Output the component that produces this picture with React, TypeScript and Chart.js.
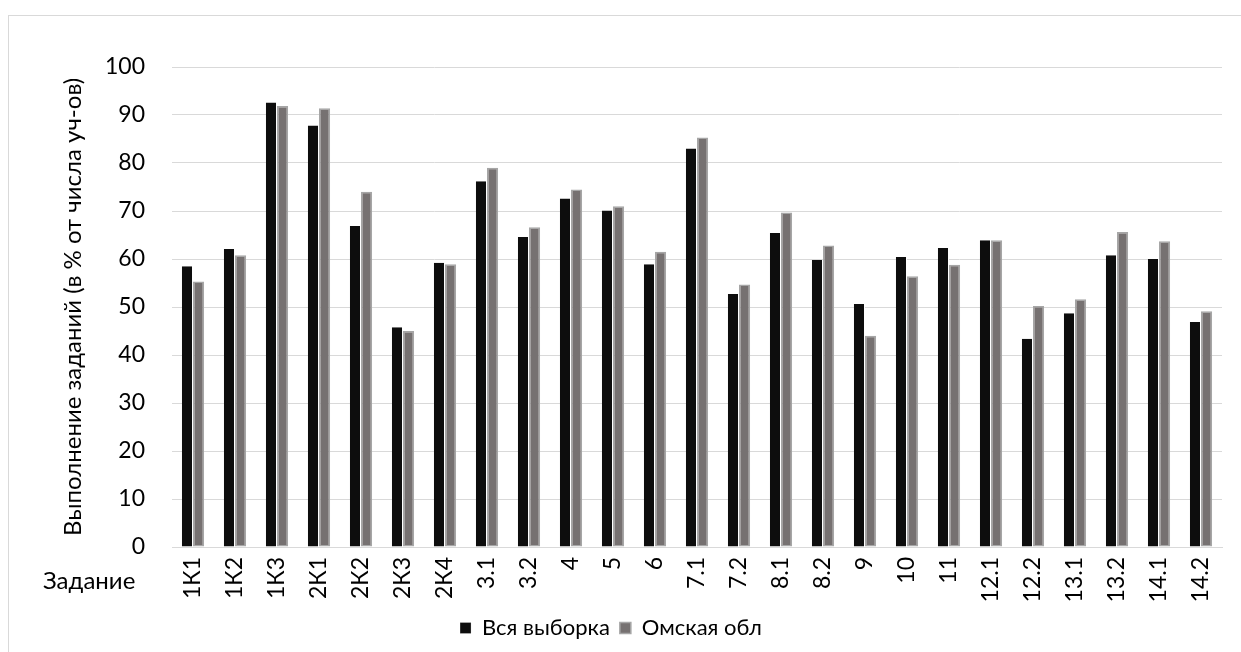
import React, { useEffect, useRef } from "react";
import { Chart, registerables } from "chart.js";

Chart.register(...registerables);

const categories: string[] = [
  "1К1", "1К2", "1К3", "2К1", "2К2", "2К3", "2К4", "3.1", "3.2", "4", "5", "6",
  "7.1", "7.2", "8.1", "8.2", "9", "10", "11", "12.1", "12.2", "13.1", "13.2", "14.1", "14.2",
];

const allSample: number[] = [
  58.5, 62.1, 92.6, 87.8, 66.9, 45.8, 59.2, 76.2, 64.6, 72.6, 70.1, 58.9,
  83.0, 52.7, 65.4, 59.8, 50.6, 60.4, 62.3, 63.9, 43.4, 48.7, 60.8, 60.0, 46.9,
];

const omskRegion: number[] = [
  55.3, 60.8, 91.9, 91.4, 74.0, 45.0, 58.9, 79.0, 66.6, 74.5, 71.0, 61.5,
  85.3, 54.7, 69.7, 62.8, 44.0, 56.4, 58.8, 63.9, 50.2, 51.6, 65.6, 63.7, 49.1,
];

const seriesNames: string[] = ["Вся выборка", "Омская обл"];
const yAxisTitle = "Выполнение заданий (в % от числа уч-ов)";
const xAxisTitle = "Задание";

const FONT = "Lato, 'Open Sans', sans-serif";

export default function App() {
  const canvasRef = useRef<HTMLCanvasElement | null>(null);

  useEffect(() => {
    document.body.style.margin = "0";
    const canvas = canvasRef.current;
    if (!canvas) return;

    const xTitlePlugin = {
      id: "xTitlePlugin",
      afterDraw(chart: any) {
        const ctx = chart.ctx;
        ctx.save();
        ctx.font = `24px ${FONT}`;
        ctx.fillStyle = "#000000";
        ctx.textAlign = "left";
        ctx.textBaseline = "middle";
        ctx.fillText(xAxisTitle, 43, 581);
        ctx.restore();
      },
    };

    const chart = new Chart(canvas, {
      type: "bar",
      data: {
        labels: categories,
        datasets: [
          {
            label: seriesNames[0],
            data: allSample,
            backgroundColor: "#0d0d0d",
            borderColor: "#ffffff",
            borderWidth: { top: 0, left: 0, bottom: 0, right: 1 },
            borderSkipped: false,
          },
          {
            label: seriesNames[1],
            data: omskRegion,
            backgroundColor: "#767171",
            borderColor: "#a6a6a6",
            borderWidth: 1.5,
            borderSkipped: false,
          },
        ],
      },
      options: {
        animation: false,
        responsive: false,
        maintainAspectRatio: false,
        layout: { padding: { top: 67, right: 19, bottom: 3, left: 0 } },
        datasets: {
          bar: { barPercentage: 1, categoryPercentage: 0.53 },
        },
        plugins: {
          legend: {
            position: "bottom",
            labels: {
              font: { family: FONT, size: 22 },
              color: "#000000",
              boxWidth: 11,
              boxHeight: 11,
              padding: 10,
            },
          },
          tooltip: { enabled: false },
        },
        scales: {
          x: {
            grid: { display: false, drawTicks: false },
            border: { display: true, color: "#d9d9d9", width: 1 },
            ticks: {
              autoSkip: false,
              minRotation: 90,
              maxRotation: 90,
              padding: 10,
              color: "#000000",
              font: { family: FONT, size: 23 },
            },
            afterFit(scale: any) {
              scale.height = 60;
            },
          },
          y: {
            min: 0,
            max: 100,
            ticks: {
              stepSize: 10,
              padding: 27,
              color: "#000000",
              font: { family: FONT, size: 23 },
            },
            grid: { color: "#d9d9d9", lineWidth: 1, drawTicks: false },
            border: { display: false },
            title: {
              display: true,
              text: yAxisTitle,
              color: "#000000",
              font: { family: FONT, size: 24 },
              padding: { top: 59, bottom: 0 },
            },
            afterFit(scale: any) {
              scale.width = 172;
            },
          },
        },
      },
      plugins: [xTitlePlugin],
    });

    return () => {
      chart.destroy();
    };
  }, []);

  return (
    <div
      style={{
        position: "fixed",
        left: 0,
        top: 0,
        width: 1241,
        height: 652,
        overflow: "hidden",
        background: "#ffffff",
      }}
    >
      <div
        style={{
          position: "absolute",
          left: 8,
          top: 15,
          width: 1260,
          height: 680,
          borderTop: "1px solid #d9d9d9",
          borderLeft: "1px solid #d9d9d9",
          boxSizing: "border-box",
        }}
      />
      <canvas
        ref={canvasRef}
        width={1241}
        height={652}
        style={{ position: "absolute", left: 0, top: 0, width: 1241, height: 652 }}
      />
    </div>
  );
}
